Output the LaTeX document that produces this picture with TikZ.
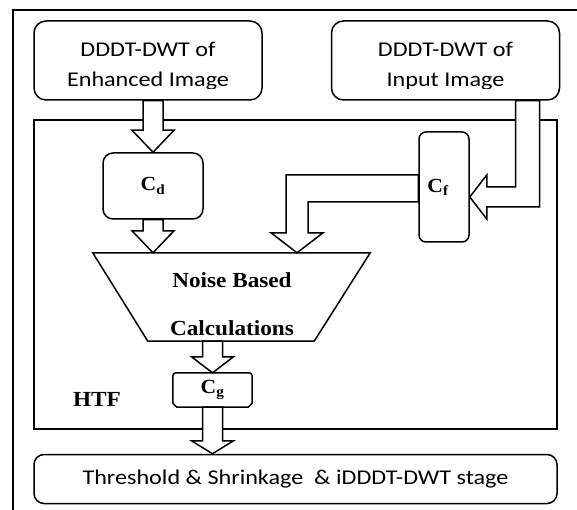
\documentclass[tikz,border=0pt]{standalone}
\usepackage{fontspec}
\setmainfont{Carlito}[FakeStretch=1.15]
\newfontfamily\labelfont{Liberation Serif}[FakeStretch=1.08]
\usetikzlibrary{calc,positioning}

% hollow block arrow pointing down: from, tip, head length
\newcommand{\dnarrow}[3]{%
    \draw[blockarrow] ($(#1)+(-10,0)$) -- ($(#2)+(-10,-#3)$) -- ($(#2)+(-21,-#3)$)
        -- (#2) -- ($(#2)+(21,-#3)$) -- ($(#2)+(10,-#3)$) -- ($(#1)+(10,0)$) -- cycle;}

\begin{document}
\begin{tikzpicture}[
    x=1pt, y=-1pt,
    every node/.style={inner sep=0pt},
    line/.style={line width=1.5pt},
    srcbox/.style={line, draw, rounded corners=12pt,
        minimum width=228pt, minimum height=79pt},
    srctext/.style={anchor=base, font=\fontsize{21}{25}\selectfont},
    cbox/.style={line, draw, align=center,
        font=\labelfont\bfseries\fontsize{20}{24}\selectfont},
    bold/.style={anchor=base, font=\labelfont\bfseries\fontsize{21.5}{26}\selectfont},
    blockarrow/.style={line, draw, fill=white, line join=miter}
]
\useasboundingbox (0,0) rectangle (577,510);

%% outer frame
\draw[line width=1.3pt] (13,510) -- (13,10) -- (577,10);

%% ── source boxes ─────────────────────────────────────
\node[srcbox] (enh) at (148,60.5) {};
\node[srcbox, right=68pt of enh] (inp) {};
\begin{scope}
    \clip (0,0) rectangle (577,89);
    \node[srctext] (enh1) at ($(enh.north)+(0,36)$) {DDDT-DWT of};
    \node[srctext] (enh2) at ($(enh.north)+(0,66.5)$) {Enhanced Image};
    \node[srctext] (inp1) at ($(inp.north)+(0,36)$) {DDDT-DWT of};
    \node[srctext] (inp2) at ($(inp.north)+(0,66.5)$) {Input Image};
\end{scope}

%% ── HTF block ────────────────────────────────────────
\node[line, draw, minimum width=523pt, minimum height=309pt] (htf) at (295.5,274.5) {};
\node[bold] (htfname) at (97,406) {HTF};

\node[cbox, rounded corners=10pt, minimum width=100pt, minimum height=66pt]
    (cd) at (153,186) {C\textsubscript{d}};
\node[cbox, rounded corners=7pt, minimum width=50pt, minimum height=110pt]
    (cf) at (444,187) {C\textsubscript{f}\hspace{12pt}};

% noise based calculations (trapezoid)
\node[minimum width=277pt, minimum height=88pt] (calc) at (231.5,297) {};
\draw[line, line join=miter] (calc.north west) -- (calc.north east)
    -- ($(calc.south east)+(-56,0)$) -- ($(calc.south west)+(55,0)$) -- cycle;
\node[bold] (calc1) at ($(calc.north)+(0.5,35)$) {Noise Based};
\node[bold] (calc2) at ($(calc.north)+(0.5,83)$) {Calculations};

% C_g block
\node[minimum width=79pt, minimum height=34pt,
    font=\labelfont\bfseries\fontsize{20}{24}\selectfont]
    (cg) at (212.5,390) {C\textsubscript{g}\hspace{6pt}};
\draw[line] ($(cg.south west)+(0,-4)$) [rounded corners=3pt] -- (cg.north west)
    -- (cg.north east) [sharp corners] -- ($(cg.south east)+(0,-4)$)
    -- ($(cg.south east)+(-4,0)$) -- ($(cg.south west)+(4,0)$) -- cycle;

%% ── output stage ─────────────────────────────────────
\node[srcbox, rounded corners=10pt, minimum width=523pt, minimum height=49pt,
    below=24pt of htf, font=\fontsize{21}{25}\selectfont] (out)
    {Threshold \& Shrinkage~ \& iDDDT-DWT stage};

%% ── block arrows ─────────────────────────────────────
\coordinate (e0) at (cd.north |- enh.south);
\dnarrow{e0}{cd.north}{22}
\coordinate (d1) at (cd.south |- calc.north);
\dnarrow{cd.south}{d1}{22}
\coordinate (g0) at (cg.north |- calc.south);
\dnarrow{g0}{cg.north}{16}
\coordinate (o1) at (cg.south |- out.north);
\dnarrow{cg.south}{o1}{13}

% input image -> C_f
\coordinate (ftip) at ($(cf.east)+(0,10)$);
\draw[blockarrow] ($(inp.south)+(70,0)$) |- ($(ftip)+(17,-10)$)
    -- ($(ftip)+(17,-22)$) -- (ftip) -- ($(ftip)+(17,22)$)
    -- ($(ftip)+(17,10)$) -| ($(inp.south)+(94,0)$) -- cycle;

% C_f -> calculations
\coordinate (ctip) at ($(calc.north)+(65.5,0)$);
\draw[blockarrow] ($(cf.west)+(0,-12)$) -| ($(ctip)+(-11,-20)$)
    -- ($(ctip)+(-26,-20)$) -- (ctip) -- ($(ctip)+(26,-20)$)
    -- ($(ctip)+(11,-20)$) |- ($(cf.west)+(0,15)$) -- cycle;

\end{tikzpicture}
\end{document}
